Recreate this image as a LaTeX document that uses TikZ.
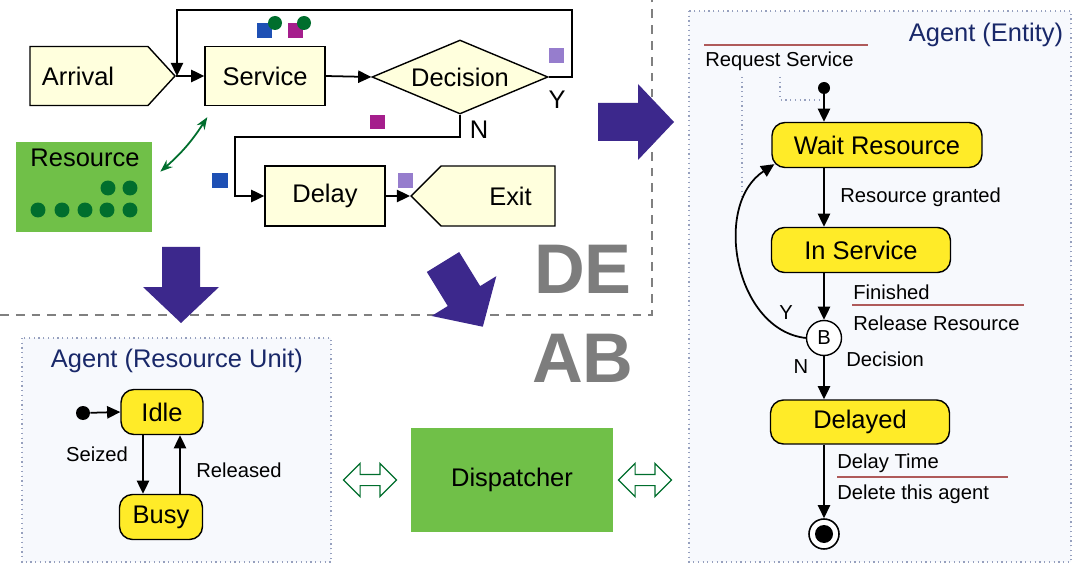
\documentclass[tikz,border=0pt]{standalone}
\usepackage{fontspec}
\setmainfont{Liberation Sans}
\usetikzlibrary{shapes.geometric,shapes.symbols,shapes.arrows,arrows.meta}

\definecolor{paleyel}{RGB}{255,255,221}
\definecolor{stateyel}{RGB}{255,235,40}
\definecolor{resgreen}{RGB}{112,192,72}
\definecolor{dotgreen}{RGB}{0,110,45}
\definecolor{bigpurple}{RGB}{60,40,140}
\definecolor{sqblue}{RGB}{30,80,180}
\definecolor{sqmag}{RGB}{165,30,140}
\definecolor{sqlav}{RGB}{150,125,205}
\definecolor{titleblue}{RGB}{25,40,105}
\definecolor{linered}{RGB}{175,90,90}
\definecolor{boxfill}{RGB}{247,249,253}
\definecolor{boxline}{RGB}{150,160,190}
\definecolor{bigtext}{RGB}{125,125,125}

\newcommand\nodefont{\fontsize{14.5}{17}\selectfont}
\newcommand\labfont{\fontsize{11.5}{13}\selectfont}

\begin{document}
\begin{tikzpicture}[x=0.02cm,y=-0.02cm,
  flow/.style={-{Triangle[length=7.5pt,width=7pt]}, line width=1pt},
  block/.style={draw, line width=0.8pt, fill=paleyel, font=\nodefont,
    minimum width=2.4cm, minimum height=1.18cm},
  stbox/.style={draw, line width=0.8pt, fill=stateyel, rounded corners=0.26cm,
    font=\nodefont, minimum height=0.9cm},
  lab/.style={font=\labfont, inner sep=0pt},
  ttl/.style={font=\nodefont, text=titleblue},
  agentbox/.style={draw=boxline, dotted, fill=boxfill, line width=0.7pt},
  sepline/.style={draw=gray, dash pattern=on 5pt off 4pt, line width=0.6pt},
  dblarr/.style={double arrow, draw=dotgreen, fill=white, line width=0.7pt,
    inner sep=0.1cm, minimum height=1.06cm, double arrow head extend=0.22cm}]
  \useasboundingbox[fill=white] (0,0) rectangle (1075,564);

  % DE / AB separation
  \draw[sepline] (0,315) -- (652,315) -- (652,0);

  % discrete event flowchart
  \node (arr) [block, shape=signal, signal to=east, signal pointer angle=95,
    minimum width=2.9cm] at (89,76) {Arrival\rule{0.44cm}{0pt}};
  \node (serv) [block] at (265,76) {Service};
  \node (dec) [block, diamond, aspect=2.4, inner sep=0pt,
    minimum width=3.52cm, minimum height=1.48cm] at (460,77) {Decision};
  \node (delay) [block, minimum height=1.2cm] at (325,196) {Delay};
  \node (exit) [block, shape=signal, signal to=west, signal pointer angle=90,
    minimum width=2.88cm, minimum height=1.2cm] at (498,196) {\hspace{0.5cm}Exit};
  \coordinate (join) at (177,76);

  \draw[flow] (arr.east) -- (serv.west);
  \draw[flow] (serv.east) -- (dec.west);
  \draw[flow] (dec.east) -- (572,77) -- (572,10) -| (join);
  \draw[flow] (dec.south) -- (460,137) -| (235,196) -- (delay.west);
  \draw[flow] (delay.east) -- (exit.west);
  \node (yes) [font=\nodefont] at (557,100) {Y};
  \node (no) [font=\nodefont] at (479,130) {N};

  % entity markers
  \fill[sqblue] (257,23) rectangle (272,38);
  \fill[dotgreen] (275,23) circle (0.14cm);
  \fill[sqmag] (288,23) rectangle (303,38);
  \fill[dotgreen] (304,23) circle (0.14cm);
  \fill[sqlav] (549,48) rectangle (564,63);
  \fill[sqmag] (370,115) rectangle (385,129);
  \fill[sqblue] (212,173) rectangle (228,188);
  \fill[sqlav] (398,173) rectangle (413,188);

  % resource pool
  \node (res) [fill=resgreen, minimum width=2.72cm, minimum height=1.8cm] at (84,187) {};
  \node (restxt) [font=\nodefont] at (85,158) {Resource};
  \foreach \x/\y in {108/188, 130/188, 38/210, 62/210, 85/210, 107/210, 130/210}
    \fill[dotgreen] (\x,\y) circle (0.15cm);
  \draw[{Stealth[length=7pt]}-{Stealth[length=7pt]}, dotgreen, line width=1pt]
    ([shift={(8,30)}]res.north east) to[bend right=8] ([shift={(3,11)}]serv.south west);

  % big conversion arrows
  \foreach \px/\py/\a in {181/247/0, 598/122/90, 443/262/31.6}
    \fill[bigpurple, shift={(\px,\py)}, rotate=\a]
      (-19,0) -- (19,0) -- (19,40) -- (38,40) -- (0,76) -- (-38,40) -- (-19,40) -- cycle;

  \node (de) [font=\fontsize{40}{44}\selectfont\bfseries, text=bigtext] at (583,269) {DE};
  \node (ab) [font=\fontsize{40}{44}\selectfont\bfseries, text=bigtext] at (583,358) {AB};

  % agent: resource unit
  \draw[agentbox] (22,338) rectangle (331,562);
  \node (ruttl) [ttl] at (177,361) {Agent (Resource Unit)};
  \node (idle) [stbox, minimum width=1.64cm] at (162,412) {Idle};
  \node (busy) [stbox, minimum width=1.66cm] at (161,517) {Busy};
  \node (ruinit) [circle, fill, minimum size=0.28cm, inner sep=0pt] at (83,413) {};
  \draw[flow] (ruinit) -- (idle.west);
  \draw[flow] ([shift={(-19,0)}]idle.south) -- (busy.north -| 143,0);
  \draw[flow] (busy.north -| 180,0) -- ([shift={(18,0)}]idle.south);
  \node (seized) [lab] at (97,454) {Seized};
  \node (released) [lab] at (239,470) {Released};

  % dispatcher
  \node (disp) [fill=resgreen, font=\nodefont, minimum width=4.06cm, minimum height=2.08cm]
    at (512,480) {Dispatcher};
  \node (dl) [dblarr] at (370,480) {};
  \node (dr) [dblarr] at (645,480) {};

  % agent: entity
  \draw[agentbox] (689,11) rectangle (1071,562);
  \node (enttl) [ttl] at (986,35) {Agent (Entity)};
  \node (req) [lab, anchor=west] at (705,61) {Request Service};
  \draw[linered, line width=0.8pt] (704,45) -- (868,45);
  \draw[boxline, dotted, line width=0.7pt] (742,77) -- (742,197);
  \draw[boxline, dotted, line width=0.7pt] (780,77) -- (780,100) -- (820,100);
  \node (init) [circle, fill, minimum size=0.24cm, inner sep=0pt] at (824,88) {};
  \node (wait) [stbox, minimum width=4.2cm] at (877,145) {Wait Resource};
  \node (insv) [stbox, minimum width=3.58cm] at (861,250) {In Service};
  \node (bdec) [circle, draw, line width=0.8pt, fill=white, font=\labfont,
    minimum size=0.7cm, inner sep=0pt] at (824,338) {B};
  \node (dly) [stbox, minimum width=3.58cm, minimum height=0.88cm] at (860,422) {Delayed};
  \node (fin) [circle, draw, line width=0.9pt, fill=white, minimum size=0.6cm,
    inner sep=0pt] at (824,534) {};
  \fill (fin) circle (0.18cm);

  \draw[flow] (init) -- (wait.north -| init);
  \draw[flow] (wait.south -| init) -- (insv.north -| init);
  \draw[flow] (insv.south -| init) -- (bdec);
  \draw[flow] (bdec) -- (dly.north -| init);
  \draw[flow] (dly.south -| init) -- (fin);
  \draw[flow] (bdec.west) .. controls (735,330) and (712,205) .. ([shift={(3,-4)}]wait.south west);

  \node (granted) [lab, anchor=west] at (840,197) {Resource granted};
  \node (finished) [lab, anchor=west] at (853,292) {Finished};
  \draw[linered, line width=0.8pt] (852,305) -- (1024,305);
  \node (release) [lab, anchor=west] at (853,323) {Release Resource};
  \node (decis) [lab, anchor=west] at (846,359) {Decision};
  \node (ylab) [lab] at (786,313) {Y};
  \node (nlab) [lab] at (801,367) {N};
  \node (dtime) [lab, anchor=west] at (837,463) {Delay Time};
  \draw[linered, line width=0.8pt] (837,477) -- (1008,477);
  \node (delete) [lab, anchor=west] at (837,494) {Delete this agent};
\end{tikzpicture}
\end{document}
